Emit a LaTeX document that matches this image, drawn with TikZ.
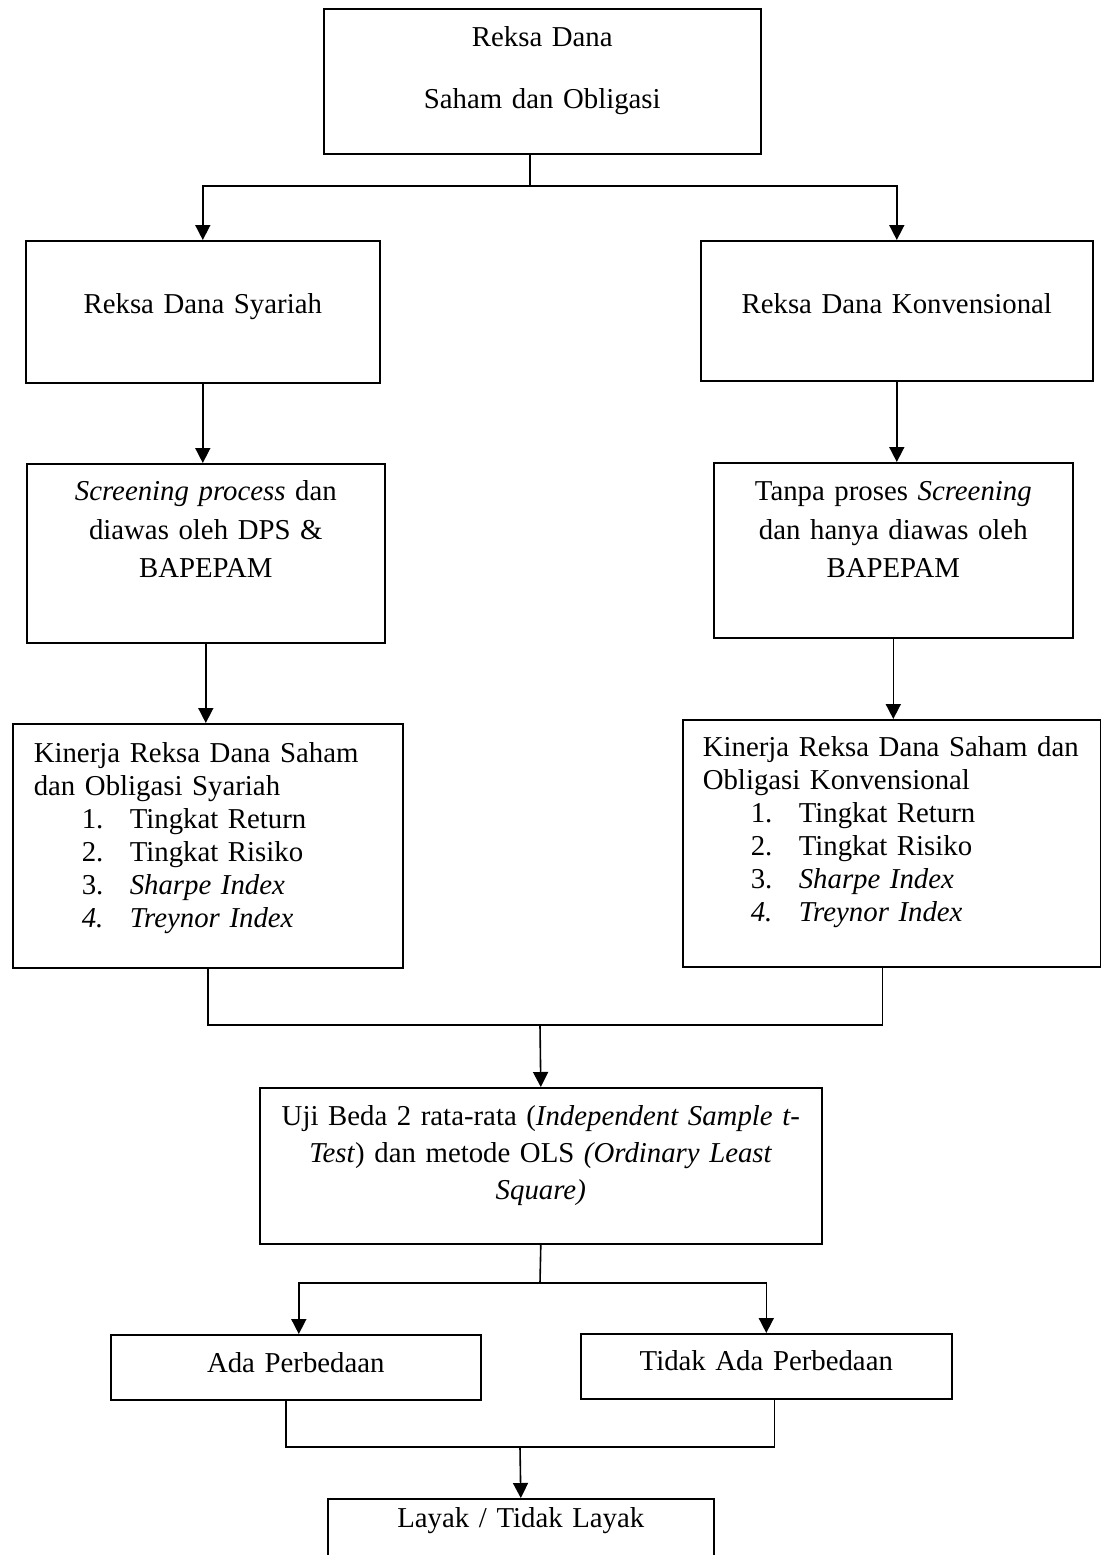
\documentclass[tikz,border=0pt]{standalone}
\usepackage{fontspec}
\setmainfont{Liberation Serif}
\usetikzlibrary{arrows.meta}
\newcommand{\butir}[2]{\hspace*{24pt}\makebox[24pt][l]{#1}#2}

\begin{document}
\begin{tikzpicture}[x=0.5pt,y=-0.5pt,
	kotak/.style={draw,line width=0.8pt,inner sep=0pt,anchor=north west,align=center},
	panah/.style={line width=0.8pt,-{Triangle[width=7.5pt,length=7.5pt]}},
	garis/.style={line width=0.8pt}]
	\useasboundingbox (0,0) rectangle (1101,1555);
	\clip (0,0) rectangle (1101,1555);
	\def\fs{14.4}

	% kotak-kotak
	\node[kotak,text width=218.5pt,text height=19pt,text depth=53.5pt,font=\fontsize{\fs}{31}\selectfont] (rd) at (323,8) {Reksa Dana\\Saham dan Obligasi};
	\node[kotak,text width=177pt,text height=36.5pt,text depth=34.5pt,font=\fontsize{\fs}{18}\selectfont] (syr) at (25,240) {Reksa Dana Syariah};
	\node[kotak,text width=196pt,text height=36.5pt,text depth=33.5pt,font=\fontsize{\fs}{18}\selectfont] (konv) at (700,240) {Reksa Dana Konvensional};
	\node[kotak,text width=179pt,text height=18.5pt,text depth=71pt,font=\fontsize{\fs}{19.25}\selectfont] (scrL) at (26,463) {\textit{Screening process} dan\\diawas oleh DPS \&\\BAPEPAM};
	\node[kotak,text width=179.5pt,text height=19pt,text depth=68.5pt,font=\fontsize{\fs}{19.25}\selectfont] (scrR) at (713,462) {Tanpa proses \textit{Screening}\\dan hanya diawas oleh\\BAPEPAM};
	\node[kotak,align=left,inner xsep=10.5pt,text width=174pt,text height=19.5pt,text depth=102.5pt,font=\fontsize{\fs}{16.5}\selectfont] (perfL) at (12,723) {Kinerja Reksa Dana Saham\\dan Obligasi Syariah\\\butir{1.}{Tingkat Return}\\\butir{2.}{Tingkat Risiko}\\\butir{3.}{\textit{Sharpe Index}}\\\butir{\textit{4.}}{\textit{Treynor Index}}};
	\node[kotak,align=left,inner xsep=10pt,text width=189pt,text height=18.5pt,text depth=105pt,font=\fontsize{\fs}{16.5}\selectfont] (perfR) at (682,719) {Kinerja~Reksa~Dana~Saham~dan\\Obligasi Konvensional\\\butir{1.}{Tingkat Return}\\\butir{2.}{Tingkat Risiko}\\\butir{3.}{\textit{Sharpe Index}}\\\butir{\textit{4.}}{\textit{Treynor Index}}};
	\node[kotak,text width=281pt,text height=19pt,text depth=59pt,font=\fontsize{\fs}{18.5}\selectfont] (uji) at (259,1087) {Uji Beda 2 rata-rata (\textit{Independent Sample t-}\\\textit{Test}) dan metode OLS \textit{(Ordinary Least}\\\textit{Square)}};
	\node[kotak,text width=185pt,text height=19pt,text depth=13.5pt,font=\fontsize{\fs}{18}\selectfont] (ada) at (110,1334) {Ada Perbedaan};
	\node[kotak,text width=185.5pt,text height=18.5pt,text depth=14pt,font=\fontsize{\fs}{18}\selectfont] (tidak) at (580,1333) {Tidak Ada Perbedaan};
	\node[kotak,text width=193pt,text height=14.5pt,text depth=36.5pt,font=\fontsize{\fs}{18}\selectfont] (layak) at (327,1498) {Layak / Tidak Layak};

	% garis dan panah
	\coordinate (c1) at (530,186);
	\draw[garis] (rd.south -| c1) -- (c1);
	\draw[panah] (c1) -| (syr.north);
	\draw[panah] (c1) -| (konv.north);
	\draw[panah] (syr.south) -- (syr.south |- scrL.north);
	\draw[panah] (konv.south) -- (konv.south |- scrR.north);
	\draw[panah] (scrL.south) -- (scrL.south |- perfL.north);
	\draw[panah] (scrR.south) -- (scrR.south |- perfR.north);

	\coordinate (c2) at (540,1025);
	\draw[garis] (perfL.south) |- (c2) -| ([xshift=-4.75pt]perfR.south);
	\draw[panah] (c2) -- (uji.north);

	\coordinate (c3) at (540,1283);
	\draw[garis] (uji.south) -- (c3);
	\draw[panah] (c3) -| ([xshift=1.5pt]ada.north);
	\draw[panah] (c3) -| (tidak.north);

	\coordinate (c4) at (520,1447);
	\draw[garis] ([xshift=-5pt]ada.south) |- (c4) -| ([xshift=4pt]tidak.south);
	\draw[panah] (c4) -- (layak.north);
\end{tikzpicture}
\end{document}
